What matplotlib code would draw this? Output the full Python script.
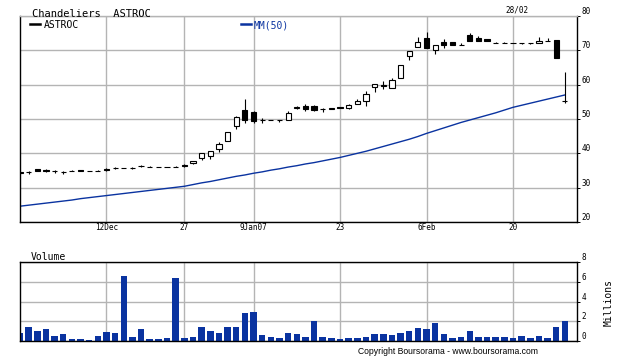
import matplotlib
matplotlib.use('Agg')
import matplotlib.pyplot as plt
import numpy as np

# ASTROC, daily candles 28 Nov 2006 -> 28 Feb 2007 (64 trading days)
opens = [34.5, 34.5, 35.3, 35.2, 34.8, 34.6, 34.9, 35.1, 34.9, 34.9,
         35.4, 35.7, 35.8, 35.7, 36.2, 35.9, 35.9, 35.9, 35.9, 36.6,
         37.1, 38.7, 39.2, 41.2, 43.6, 48.0, 52.6, 52.0, 49.8, 49.8,
         49.7, 49.7, 53.1, 53.9, 53.9, 52.8, 52.9, 53.4, 53.3, 54.4,
         55.2, 59.2, 59.8, 59.1, 62.0, 68.4, 71.1, 73.5, 70.1, 72.5,
         72.3, 71.5, 74.5, 73.6, 73.3, 72.1, 72.1, 72.1, 72.1, 72.1,
         72.1, 72.8, 73.0, 55.3]
highs = [34.7, 34.9, 35.5, 35.4, 35.2, 34.9, 35.2, 35.1, 34.9, 35.2,
         35.7, 36.1, 35.8, 36.1, 36.6, 36.2, 35.9, 35.9, 36.2, 36.8,
         37.9, 40.0, 40.6, 43.3, 46.1, 50.8, 55.8, 52.2, 50.2, 49.8,
         49.7, 52.4, 53.8, 54.5, 54.0, 53.3, 53.3, 53.4, 54.5, 55.7,
         58.2, 60.1, 61.1, 61.8, 65.7, 69.8, 73.9, 75.3, 71.6, 73.3,
         72.3, 72.0, 75.0, 74.3, 73.3, 72.3, 72.3, 72.1, 72.1, 72.1,
         73.8, 73.5, 73.0, 63.8]
lows = [33.9, 34.0, 34.9, 34.7, 34.4, 33.9, 34.9, 35.0, 34.9, 34.9,
        34.8, 35.3, 35.6, 35.3, 36.0, 35.9, 35.9, 35.9, 35.9, 36.1,
        36.9, 38.1, 38.3, 40.4, 43.6, 47.0, 48.8, 48.7, 48.7, 49.6,
        49.2, 49.7, 52.9, 52.3, 52.3, 52.0, 52.9, 53.3, 52.9, 54.4,
        53.9, 58.0, 58.7, 58.9, 61.8, 67.2, 70.9, 70.6, 68.8, 70.6,
        71.5, 71.5, 72.7, 72.7, 72.7, 72.1, 72.1, 72.1, 71.8, 71.8,
        72.1, 72.8, 67.9, 54.6]
closes = [34.2, 34.5, 35.0, 34.9, 34.8, 34.5, 34.9, 35.0, 34.9, 34.9,
          35.1, 35.7, 35.6, 35.7, 36.2, 35.9, 35.9, 35.9, 35.9, 36.2,
          37.8, 40.0, 40.6, 42.7, 46.1, 50.7, 49.7, 49.5, 49.6, 49.6,
          49.6, 51.7, 53.6, 52.8, 52.6, 52.8, 53.3, 53.3, 54.1, 55.2,
          57.2, 60.1, 59.6, 61.4, 65.7, 69.8, 72.5, 70.8, 71.5, 71.5,
          71.5, 71.5, 72.7, 72.7, 72.7, 72.1, 72.1, 72.1, 72.1, 72.1,
          72.8, 72.8, 67.9, 55.3]
ma50 = [24.6, 24.9, 25.2, 25.5, 25.8, 26.1, 26.4, 26.8, 27.1, 27.4,
        27.7, 28.0, 28.3, 28.6, 28.9, 29.2, 29.5, 29.8, 30.1, 30.4,
        30.9, 31.4, 31.8, 32.3, 32.8, 33.3, 33.7, 34.2, 34.6, 35.1,
        35.5, 36.0, 36.4, 36.9, 37.3, 37.8, 38.3, 38.8, 39.4, 40.0,
        40.6, 41.3, 42.0, 42.7, 43.4, 44.1, 44.9, 45.8, 46.6, 47.4,
        48.2, 49.0, 49.7, 50.4, 51.1, 51.8, 52.6, 53.4, 54.0, 54.6,
        55.2, 55.8, 56.4, 57.0]
volume = [0.8, 1.4, 1.0, 1.2, 0.5, 0.7, 0.2, 0.2, 0.1, 0.5,
          0.9, 0.8, 6.6, 0.4, 1.2, 0.2, 0.2, 0.3, 6.4, 0.3,
          0.4, 1.4, 1.0, 0.8, 1.4, 1.4, 2.8, 2.9, 0.6, 0.4,
          0.3, 0.8, 0.7, 0.4, 2.0, 0.4, 0.3, 0.2, 0.3, 0.3,
          0.4, 0.7, 0.7, 0.6, 0.8, 1.0, 1.3, 1.2, 1.8, 0.7,
          0.3, 0.4, 1.0, 0.4, 0.4, 0.4, 0.4, 0.3, 0.5, 0.3,
          0.5, 0.3, 1.4, 2.0]
xtick_pos = [10, 19, 27, 37, 47, 57]
xtick_labels = ['12Dec', '27', '9Jan07', '23', '6Feb', '20']

W, H = 620, 359
MONO = 'DejaVu Sans Mono'
BLUE = '#0a33a0'
GRID = '#b4b4b4'

def px(x, y):
    return x / W, 1 - y / H

def style_axes(ax, yticks):
    ax.set_xlim(0, 64.4)
    ax.yaxis.tick_right()
    ax.set_yticks(yticks)
    ax.set_xticks(xtick_pos)
    ax.grid(True, color=GRID, lw=1)
    ax.set_axisbelow(True)
    ax.tick_params(axis='y', direction='out', length=2, width=0.7, pad=1,
                   labelsize=5.5)
    ax.tick_params(axis='x', length=0)
    for lbl in ax.get_yticklabels():
        lbl.set_fontfamily(MONO)
        lbl.set_va('bottom')
    for sp in ax.spines.values():
        sp.set_linewidth(1)

fig = plt.figure(figsize=(W / 100, H / 100), dpi=100)
ax = fig.add_axes([20 / W, 1 - 222 / H, 557 / W, 206 / H])
axv = fig.add_axes([20 / W, 1 - 341 / H, 557 / W, 79 / H])

x = np.arange(len(closes))
o, h, l, c = map(np.array, (opens, highs, lows, closes))

# price panel
ax.set_ylim(20, 80)
style_axes(ax, [20, 30, 40, 50, 60, 70, 80])
ax.spines['top'].set_color(GRID)
ax.set_xticklabels(xtick_labels, fontsize=5.5, fontfamily=MONO)
ax.tick_params(axis='x', pad=0.5)

ax.plot(x, ma50, color=BLUE, lw=1, zorder=2)
ax.vlines(x, l, h, color='black', lw=0.8, zorder=3)
up = c >= o
ax.bar(x, np.abs(c - o), bottom=np.minimum(o, c), width=0.6,
       color=np.where(up, 'white', 'black'), edgecolor='black',
       linewidth=0.8, zorder=4)

# volume panel
axv.set_ylim(0, 8)
style_axes(axv, [0, 2, 4, 6, 8])
axv.tick_params(axis='x', labelbottom=False)
axv.bar(x, volume, width=0.75, color=BLUE, zorder=2)

# texts
fig.text(*px(32, 17), 'Chandeliers  ASTROC', fontsize=7.5, fontfamily=MONO,
         va='baseline')
fig.text(*px(517, 10), '28/02', fontsize=5.5, fontfamily=MONO,
         ha='center', va='center')
fig.add_artist(plt.Line2D([30 / W, 40 / W], [1 - 23.5 / H] * 2,
                          color='black', lw=1.8))
fig.text(*px(44, 25), 'ASTROC', fontsize=7, fontfamily=MONO, va='center')
fig.add_artist(plt.Line2D([241 / W, 251 / W], [1 - 23.5 / H] * 2,
                          color=BLUE, lw=1.8))
fig.text(*px(254, 25), 'MM(50)', fontsize=7, fontfamily=MONO, va='center',
         color=BLUE)
fig.text(*px(31, 260.5), 'Volume', fontsize=7, fontfamily=MONO,
         va='baseline')
fig.text(*px(609, 303), 'Millions', fontsize=7, fontfamily=MONO,
         rotation=90, ha='center', va='center')
fig.text(*px(448, 352), 'Copyright Boursorama - www.boursorama.com',
         fontsize=6.2, fontfamily='Liberation Sans', ha='center', va='center')

fig.savefig('out.png', dpi=100)
